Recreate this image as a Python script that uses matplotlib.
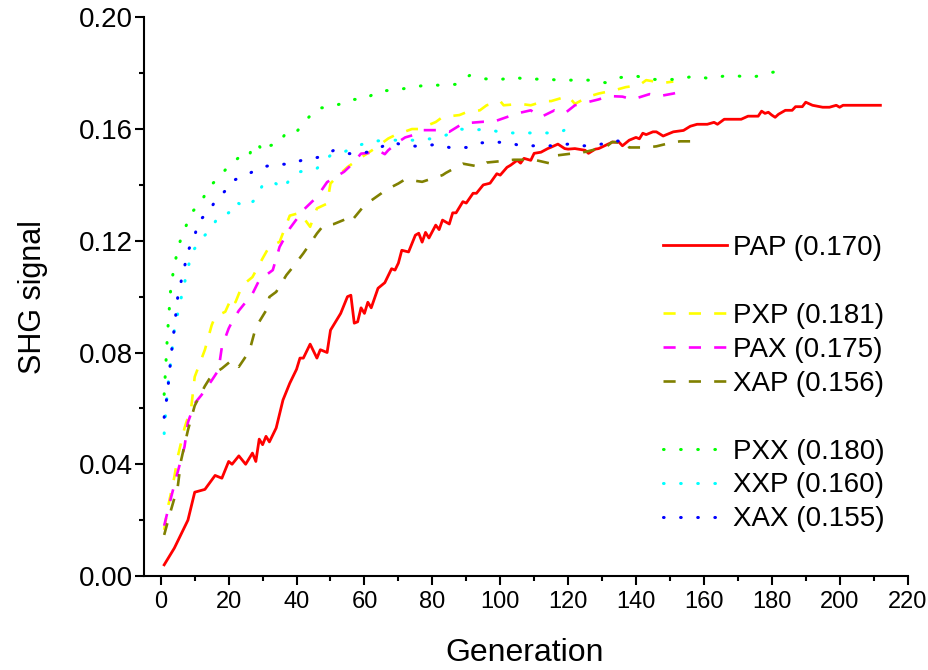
import matplotlib
matplotlib.use("Agg")
import matplotlib.pyplot as plt
from matplotlib import font_manager
from matplotlib.lines import Line2D
from matplotlib.ticker import MultipleLocator, FormatStrFormatter

plt.rcParams['font.family'] = ['Liberation Sans', 'DejaVu Sans']

# PAP (red, solid)
pap_gen = [1, 4, 8, 10, 13, 16, 18, 20, 21, 23,
           25, 27, 28, 29, 30, 31, 32, 34, 36, 38,
           40, 41, 42, 44, 46, 47, 49, 50, 53, 55,
           56, 57, 58, 59, 60, 61, 62, 64, 66, 68,
           69, 70, 71, 73, 75, 76, 77, 78, 79, 81,
           82, 83, 85, 86, 87, 89, 90, 92, 93, 95,
           97, 99, 100, 102, 103, 105, 106, 107, 109, 110,
           112, 114, 115, 117, 119, 120, 122, 125, 126, 128,
           129, 133, 135, 136, 138, 140, 141, 142, 143, 145,
           146, 148, 150, 151, 154, 156, 158, 161, 163, 164,
           166, 171, 173, 176, 177, 178, 179, 180, 181, 182,
           184, 186, 187, 189, 190, 192, 195, 197, 199, 200,
           201, 212]
pap_val = [0.004, 0.010, 0.020, 0.030, 0.031, 0.036, 0.035, 0.041, 0.040, 0.043,
           0.040, 0.044, 0.041, 0.049, 0.047, 0.050, 0.048, 0.053, 0.063, 0.069,
           0.074, 0.078, 0.078, 0.083, 0.078, 0.081, 0.080, 0.088, 0.094, 0.100,
           0.1005, 0.0905, 0.091, 0.096, 0.094, 0.098, 0.096, 0.103, 0.105, 0.110,
           0.1095, 0.112, 0.1166, 0.116, 0.122, 0.1227, 0.1195, 0.123, 0.121, 0.1256,
           0.124, 0.1274, 0.126, 0.130, 0.130, 0.134, 0.1335, 0.137, 0.137, 0.140,
           0.1406, 0.144, 0.1435, 0.1463, 0.147, 0.1488, 0.1478, 0.1495, 0.1488, 0.1513,
           0.1517, 0.153, 0.1535, 0.1546, 0.153, 0.1528, 0.153, 0.1524, 0.1513, 0.1528,
           0.153, 0.1553, 0.1553, 0.154, 0.156, 0.157, 0.1565, 0.1585, 0.158, 0.159,
           0.159, 0.1575, 0.1585, 0.159, 0.1595, 0.161, 0.1617, 0.1617, 0.1624, 0.1617,
           0.1635, 0.1635, 0.1646, 0.1646, 0.1664, 0.1656, 0.166, 0.165, 0.1642, 0.1653,
           0.1667, 0.1667, 0.168, 0.168, 0.1696, 0.1685, 0.1678, 0.1678, 0.1685, 0.1678,
           0.1685, 0.1685]

# PXP (yellow, dashed)
pxp_gen = [1, 2, 4, 5, 7, 9, 10, 13, 15, 16,
           19, 21, 22, 24, 27, 30, 32, 35, 38, 41,
           44, 46, 49, 50, 52, 55, 60, 63, 67, 69,
           74, 76, 81, 83, 88, 90, 94, 96, 100, 101,
           106, 109, 113, 115, 120, 122, 126, 129, 134, 137,
           141, 143, 148, 151]
pxp_val = [0.0165, 0.024, 0.0355, 0.0427, 0.053, 0.0606, 0.0713, 0.081, 0.0898, 0.0928,
           0.0946, 0.100, 0.098, 0.104, 0.107, 0.1137, 0.118, 0.1196, 0.129, 0.130,
           0.125, 0.1316, 0.1333, 0.1405, 0.143, 0.1464, 0.1506, 0.153, 0.1566, 0.1578,
           0.160, 0.160, 0.1625, 0.1643, 0.165, 0.166, 0.1667, 0.1685, 0.170, 0.1685,
           0.169, 0.1685, 0.170, 0.170, 0.1718, 0.169, 0.1716, 0.1727, 0.174, 0.175,
           0.1757, 0.1775, 0.1765, 0.177]

# PAX (magenta, dashed)
pax_gen = [1, 3, 5, 7, 8, 10, 12, 15, 17, 18,
           20, 21, 23, 27, 29, 33, 35, 38, 42, 46,
           49, 54, 56, 59, 62, 64, 66, 67, 70, 72,
           76, 77, 82, 85, 89, 95, 98, 102, 105, 109,
           112, 116, 119, 122, 129, 132, 136, 139, 144, 147,
           151, 154]
pax_val = [0.018, 0.028, 0.0373, 0.0463, 0.055, 0.0618, 0.0648, 0.070, 0.0737, 0.082,
           0.0886, 0.091, 0.095, 0.101, 0.1059, 0.1095, 0.1178, 0.1244, 0.131, 0.1357,
           0.141, 0.1447, 0.147, 0.1512, 0.1515, 0.1524, 0.151, 0.1524, 0.1554, 0.157,
           0.1584, 0.1596, 0.1596, 0.159, 0.162, 0.1626, 0.1626, 0.1643, 0.1656, 0.1667,
           0.1643, 0.1667, 0.1656, 0.1685, 0.1706, 0.1718, 0.1716, 0.1706, 0.1725, 0.1718,
           0.1727, 0.1736]

# XAP (olive, dashed)
xap_gen = [1, 3, 5, 6, 8, 10, 13, 15, 18, 21,
           23, 25, 26, 28, 31, 32, 34, 37, 39, 42,
           44, 46, 48, 51, 55, 56, 60, 65, 66, 70,
           72, 77, 83, 84, 89, 94, 96, 101, 104, 110,
           115, 117, 121, 125, 129, 131, 133, 136, 137, 138,
           143, 146, 150, 153, 158]
xap_val = [0.0147, 0.0236, 0.032, 0.0415, 0.0522, 0.061, 0.068, 0.0719, 0.0743, 0.0773,
           0.0749, 0.0785, 0.080, 0.089, 0.095, 0.0999, 0.1017, 0.1077, 0.1107, 0.1155,
           0.119, 0.1226, 0.1256, 0.126, 0.128, 0.1268, 0.1327, 0.137, 0.138, 0.1405,
           0.142, 0.1411, 0.1435, 0.1443, 0.1476, 0.1465, 0.148, 0.1486, 0.149, 0.149,
           0.1476, 0.1506, 0.1512, 0.1518, 0.153, 0.1534, 0.1554, 0.155, 0.1554, 0.1534,
           0.1534, 0.1538, 0.155, 0.1556, 0.1556]

# PXX (green, dotted)
pxx_gen = [1, 2, 3, 4, 5, 6, 7, 9, 12, 14,
           17, 20, 23, 26, 27, 29, 30, 32, 35, 37,
           40, 43, 46, 49, 53, 56, 60, 64, 69, 73,
           78, 82, 87, 91, 95, 100, 104, 108, 113, 117,
           122, 126, 131, 135, 140, 144, 148, 153, 157, 162,
           166, 170, 174, 179, 181]
pxx_val = [0.065, 0.087, 0.104, 0.111, 0.117, 0.121, 0.124, 0.130, 0.134, 0.139,
           0.1425, 0.1468, 0.1498, 0.1497, 0.1546, 0.154, 0.1517, 0.154, 0.155, 0.159,
           0.159, 0.1634, 0.1675, 0.1677, 0.169, 0.1706, 0.1706, 0.1735, 0.174, 0.1747,
           0.1757, 0.1757, 0.176, 0.1792, 0.178, 0.1777, 0.1786, 0.1777, 0.178, 0.1775,
           0.1775, 0.1775, 0.1766, 0.1784, 0.179, 0.1778, 0.1777, 0.1778, 0.179, 0.178,
           0.179, 0.179, 0.1784, 0.180, 0.1805]

# XXP (cyan, dotted)
xxp_gen = [1, 2, 3, 4, 5, 7, 8, 9, 12, 15,
           17, 20, 22, 25, 28, 30, 33, 36, 38, 41,
           46, 50, 54, 58, 62, 67, 76, 80, 84, 88,
           92, 96, 101, 105, 110, 114, 118, 122]
xxp_val = [0.051, 0.067, 0.0773, 0.088, 0.094, 0.105, 0.110, 0.1155, 0.1208, 0.1244,
           0.129, 0.130, 0.134, 0.132, 0.1349, 0.140, 0.1413, 0.1385, 0.142, 0.1447,
           0.1459, 0.1506, 0.1518, 0.154, 0.1556, 0.156, 0.156, 0.1566, 0.1578, 0.160,
           0.1596, 0.160, 0.1586, 0.1586, 0.1586, 0.1586, 0.159, 0.1617]

# XAX (blue, dotted)
xax_gen = [1, 2, 3, 4, 5, 6, 7, 8, 10, 11,
           14, 16, 19, 21, 25, 30, 34, 38, 42, 47,
           51, 55, 59, 63, 68, 72, 77, 81, 85, 90,
           94, 98, 103, 106, 111, 115, 120, 124, 128, 133,
           135]
xax_val = [0.0568, 0.066, 0.0785, 0.089, 0.0999, 0.1055, 0.1107, 0.1163, 0.1216, 0.127,
           0.130, 0.1342, 0.1379, 0.1414, 0.1435, 0.1464, 0.1474, 0.1474, 0.149, 0.150,
           0.1524, 0.1512, 0.1512, 0.1524, 0.1554, 0.154, 0.1538, 0.1545, 0.1534, 0.1534,
           0.155, 0.1554, 0.155, 0.154, 0.154, 0.154, 0.1546, 0.154, 0.154, 0.1557,
           0.1557]

labels = ['PAP (0.170)', 'PXP (0.181)', 'PAX (0.175)', 'XAP (0.156)',
          'PXX (0.180)', 'XXP (0.160)', 'XAX (0.155)']

# x tick labels in the original are set in a narrow face
try:
    font_manager.findfont('Liberation Sans Narrow', fallback_to_default=False)
    xtick_font, xtick_size = 'Liberation Sans Narrow', 20
except ValueError:
    xtick_font, xtick_size = 'Liberation Sans', 17

fig = plt.figure(figsize=(9.29, 6.70), dpi=100)
ax = fig.add_axes([0.1548, 0.1403, 0.9769 - 0.1548, 0.9742 - 0.1403])

lw = 1.9
dash = dict(dashes=(4.6, 5.0))
dot = dict(dashes=(0.2, 5.4), dash_capstyle='round')

h_pap, = ax.plot(pap_gen, pap_val, color='#FF0000', lw=2.0, label=labels[0])
h_pxp, = ax.plot(pxp_gen, pxp_val, color='#FFFF00', lw=lw, label=labels[1], **dash)
h_pax, = ax.plot(pax_gen, pax_val, color='#FF00FF', lw=lw, label=labels[2], **dash)
h_xap, = ax.plot(xap_gen, xap_val, color='#808000', lw=lw, label=labels[3], **dash)
h_pxx, = ax.plot(pxx_gen, pxx_val, color='#00FF00', lw=2.2, label=labels[4], **dot)
h_xxp, = ax.plot(xxp_gen, xxp_val, color='#00FFFF', lw=2.2, label=labels[5], **dot)
h_xax, = ax.plot(xax_gen, xax_val, color='#0000FF', lw=2.2, label=labels[6], **dot)

ax.set_xlim(-5, 220)
ax.set_ylim(0, 0.20)
ax.xaxis.set_major_locator(MultipleLocator(20))
ax.xaxis.set_minor_locator(MultipleLocator(10))
ax.yaxis.set_major_locator(MultipleLocator(0.04))
ax.yaxis.set_minor_locator(MultipleLocator(0.02))
ax.yaxis.set_major_formatter(FormatStrFormatter('%.2f'))

for s in ['top', 'right']:
    ax.spines[s].set_visible(False)
for s in ['left', 'bottom']:
    ax.spines[s].set_linewidth(1.5)
ax.tick_params(which='major', direction='out', length=6.5, width=1.5)
ax.tick_params(which='minor', direction='out', length=3.5, width=1.5)
ax.tick_params(axis='y', which='major', labelsize=20, pad=1.5)
ax.tick_params(axis='x', which='major', labelsize=xtick_size, pad=4)
for t in ax.get_xticklabels():
    t.set_family([xtick_font, 'Liberation Sans'])

ax.set_xlabel('Generation', fontsize=23)
ax.set_ylabel('SHG signal', fontsize=22)
ax.xaxis.set_label_coords(0.4985, -0.111)
ax.yaxis.set_label_coords(-0.125, 0.5)

blank = Line2D([], [], linestyle='none', label=' ')
ax.legend(handles=[h_pap, blank, h_pxp, h_pax, h_xap, blank, h_pxx, h_xxp, h_xax],
          loc='upper left', bbox_to_anchor=(0.647, 0.655), frameon=False,
          fontsize=20, handlelength=2.3, handletextpad=0.22, labelspacing=0.285)

fig.savefig('out.png', dpi=100)
